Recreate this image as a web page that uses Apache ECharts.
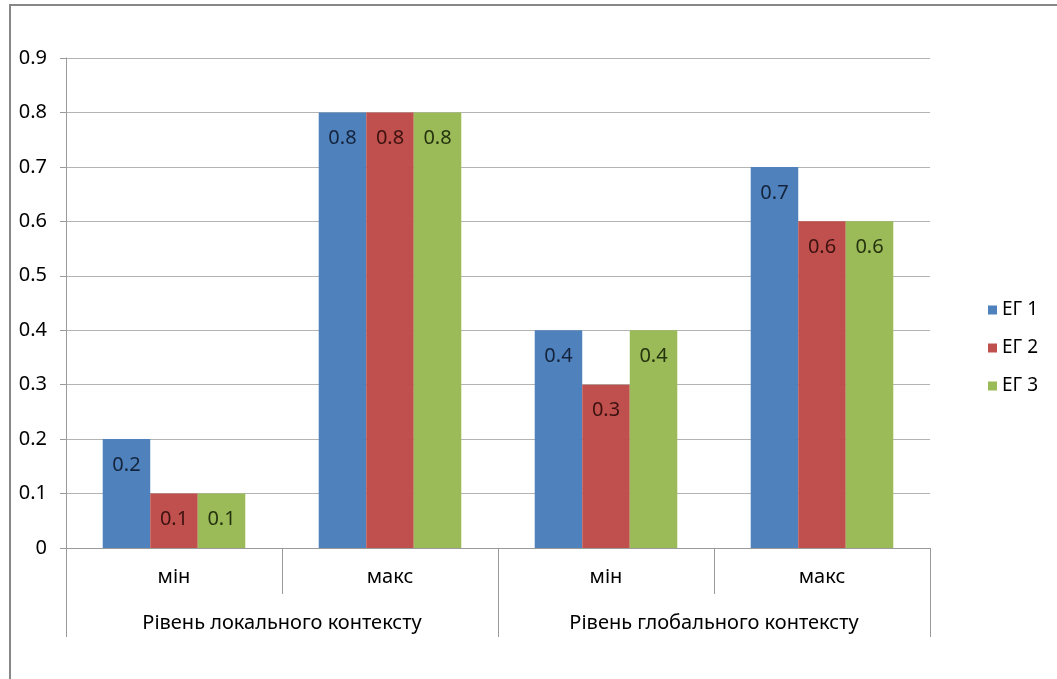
<!DOCTYPE html>
<html>
<head>
<meta charset="utf-8">
<script src="https://cdn.jsdelivr.net/npm/echarts@6/dist/echarts.min.js"></script>
<style>
html,body{margin:0;padding:0;background:#fff;overflow:hidden;}
#frame{position:absolute;left:9px;top:4px;width:1100px;height:720px;border-top:2px solid #878787;border-left:2px solid #878787;}
#chart{position:absolute;left:0;top:0;width:1057px;height:679px;}
</style>
</head>
<body>
<div id="frame"></div>
<div id="chart"></div>
<script>
const subCategories = ['мін', 'макс', 'мін', 'макс'];
const groupCategories = ['Рівень локального контексту', 'Рівень глобального контексту'];
const seriesNames = ['ЕГ 1', 'ЕГ 2', 'ЕГ 3'];
const eg1 = [0.2, 0.8, 0.4, 0.7];
const eg2 = [0.1, 0.8, 0.3, 0.6];
const eg3 = [0.1, 0.8, 0.4, 0.6];
const yTicks = [0, 0.1, 0.2, 0.3, 0.4, 0.5, 0.6, 0.7, 0.8, 0.9];

const colors = ['#4F81BD', '#C0504D', '#9BBB59'];
const labelColors = ['#14243c', '#3c1210', '#25330f'];
const font = 'Noto Sans';
const fs = 20;
const chart = echarts.init(document.getElementById('chart'), null, {renderer: 'canvas'});

function mkSeries(name, data, i) {
  return {
    name: name, type: 'bar', data: data, xAxisIndex: 0,
    barGap: '0%', barCategoryGap: '34%',
    itemStyle: {color: colors[i]},
    label: {show: true, position: 'insideTop', distance: 16, color: labelColors[i],
            fontFamily: font, fontSize: fs, formatter: p => String(p.value)}
  };
}

chart.setOption({
  animation: false,
  textStyle: {fontFamily: font},
  grid: {left: 66, top: 58, right: 127, bottom: 131, containLabel: false},
  legend: {
    orient: 'vertical', left: 983, top: 295, itemGap: 18, itemWidth: 9, itemHeight: 9,
    icon: 'rect', data: seriesNames,
    textStyle: {fontFamily: font, fontSize: 19, lineHeight: 20, color: '#000', padding: [0,0,0,0]}
  },
  xAxis: [
    {type: 'category', data: subCategories, position: 'bottom',
     axisLine: {show: true, lineStyle: {color: '#9a9a9a', width: 1}},
     axisTick: {show: true, length: 46, lineStyle: {color: '#9a9a9a'}},
     axisLabel: {fontFamily: font, fontSize: fs, color: '#000', margin: 19},
     splitLine: {show: false}},
    {type: 'category', data: groupCategories, position: 'bottom', offset: 46,
     axisLine: {show: false},
     axisTick: {show: true, length: 43, lineStyle: {color: '#9a9a9a'}},
     axisLabel: {fontFamily: font, fontSize: fs, color: '#000', margin: 19},
     splitLine: {show: false}}
  ],
  yAxis: {
    type: 'value', min: yTicks[0], max: yTicks[yTicks.length - 1], interval: 0.1,
    axisLine: {show: true, lineStyle: {color: '#9a9a9a'}},
    axisTick: {show: true, length: 6, lineStyle: {color: '#9a9a9a'}},
    axisLabel: {fontFamily: font, fontSize: fs, color: '#000', margin: 19,
                formatter: v => String(Math.round(v * 10) / 10)},
    splitLine: {show: true, lineStyle: {color: '#b4b4b4', width: 1}}
  },
  series: [mkSeries(seriesNames[0], eg1, 0), mkSeries(seriesNames[1], eg2, 1), mkSeries(seriesNames[2], eg3, 2)]
});
</script>
</body>
</html>
